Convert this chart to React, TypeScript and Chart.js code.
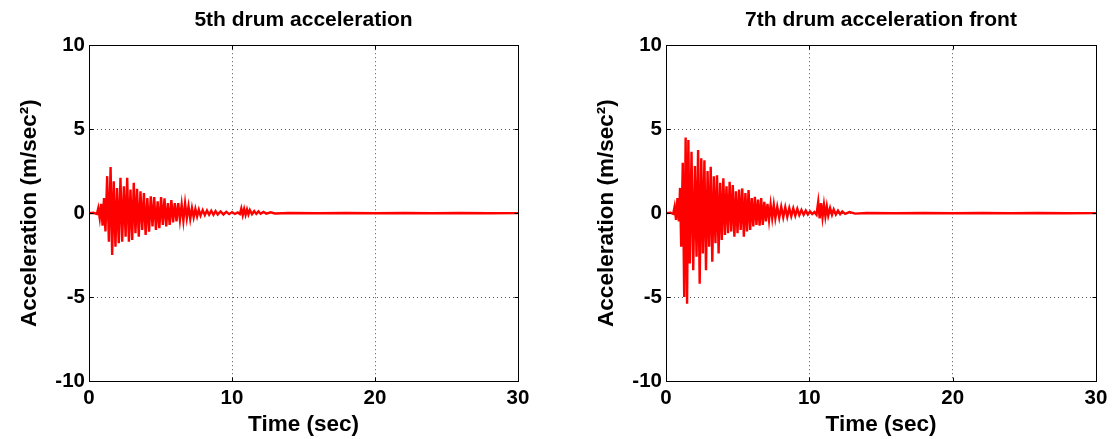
import React, { useEffect, useRef } from 'react';
import { Chart, registerables } from 'chart.js';

Chart.register(...registerables);

// ---- Data ----
const drum5Time = [
  0, 0.3, 0.55, 0.65, 0.75, 0.85, 0.95, 1.05, 1.15, 1.27, 1.39, 1.51, 1.62, 1.73, 1.85, 1.96, 2.08, 2.2, 2.32, 2.44,
  2.56, 2.67, 2.79, 2.9, 3.02, 3.13, 3.25, 3.36, 3.48, 3.6, 3.72, 3.84, 3.96, 4.08, 4.2, 4.32, 4.44, 4.56, 4.68, 4.8,
  4.92, 5.04, 5.16, 5.28, 5.4, 5.52, 5.64, 5.76, 5.88, 6.0, 6.12, 6.24, 6.36, 6.48, 6.6, 6.72, 6.84, 6.96, 7.08, 7.2,
  7.32, 7.44, 7.56, 7.68, 7.8, 7.95, 8.1, 8.25, 8.4, 8.55, 8.7, 8.85, 9.0, 9.2, 9.4, 9.6, 9.8, 10.0, 10.2, 10.4,
  10.55, 10.65, 10.75, 10.85, 10.95, 11.05, 11.15, 11.25, 11.4, 11.55, 11.7, 11.85, 12.0, 12.2, 12.4, 12.7, 13.0,
  14, 16, 18, 20, 22, 24, 26, 28, 30,
];
const drum5Accel = [
  0, 0.02, -0.05, 0.3, -0.3, 0.55, -0.75, 0.9, -1.1, 2.2, -1.7, 2.75, -2.5, 1.9, -2.0, 1.5, -1.8, 2.1, -1.7, 1.6,
  -1.4, 2.1, -1.7, 1.4, -1.6, 1.8, -1.2, 1.45, -1.4, 1.3, -1.0, 1.2, -1.3, 0.9, -1.1, 1.0, -0.8, 0.95, -1.0, 0.7,
  -0.9, 0.95, -0.7, 0.88, -0.8, 0.6, -0.7, 0.77, -0.55, 0.6, -0.5, 0.6, -0.4, 0.5, -0.45, 0.58, -0.3, 0.4, -0.35, 0.3,
  -0.25, 0.25, -0.2, 0.2, -0.15, 0.18, -0.12, 0.15, -0.1, 0.14, -0.1, 0.12, -0.08, 0.1, -0.08, 0.08, -0.06, 0.06, -0.05, 0.04,
  -0.05, 0.28, -0.12, 0.25, -0.1, 0.22, -0.08, 0.18, -0.06, 0.12, -0.05, 0.1, -0.04, 0.07, -0.03, 0.05, -0.02,
  0.01, -0.01, 0.01, -0.01, 0.01, -0.01, 0.01, -0.01, 0,
];

const drum7Time = [
  0, 0.3, 0.5, 0.6, 0.7, 0.8, 0.9, 0.98, 1.06, 1.17, 1.27, 1.37, 1.47, 1.56, 1.66, 1.78, 1.9, 2.02, 2.13, 2.24,
  2.35, 2.46, 2.57, 2.68, 2.79, 2.9, 3.01, 3.12, 3.23, 3.34, 3.45, 3.56, 3.67, 3.78, 3.89, 4.0, 4.11, 4.22, 4.33, 4.44,
  4.55, 4.66, 4.77, 4.88, 4.99, 5.1, 5.21, 5.32, 5.43, 5.54, 5.65, 5.76, 5.87, 5.98, 6.09, 6.2, 6.31, 6.42, 6.53, 6.64,
  6.75, 6.86, 6.97, 7.08, 7.19, 7.3, 7.41, 7.52, 7.63, 7.76, 7.9, 8.04, 8.18, 8.32, 8.46, 8.6, 8.74, 8.88, 9.02, 9.16,
  9.3, 9.45, 9.6, 9.75, 9.9, 10.05, 10.2, 10.35, 10.5, 10.62, 10.72, 10.82, 10.92, 11.02, 11.12, 11.22, 11.32, 11.45,
  11.58, 11.7, 11.85, 12.0, 12.15, 12.3, 12.5, 12.8, 13.2, 14, 16, 18, 20, 22, 24, 26, 28, 30,
];
const drum7Accel = [
  0, 0.02, -0.05, 0.38, -0.4, 0.9, -0.5, 1.5, -2.0, 3.0, -5.0, 4.5, -5.4, 4.35, -3.0, 3.65, -3.4, 2.8, -2.6, 3.75,
  -4.2, 3.27, -2.4, 3.15, -3.4, 2.5, -2.0, 2.76, -2.9, 2.2, -1.8, 2.26, -2.4, 1.8, -1.6, 2.08, -1.3, 1.6, -1.2, 1.86,
  -1.1, 1.67, -1.4, 1.3, -1.2, 1.4, -1.0, 1.47, -1.4, 1.2, -1.1, 1.37, -1.0, 0.9, -0.8, 0.97, -0.7, 0.8, -0.75, 0.9,
  -0.7, 0.67, -0.5, 0.55, -0.4, 0.5, -0.3, 0.48, -0.3, 0.38, -0.28, 0.38, -0.25, 0.35, -0.22, 0.3, -0.18, 0.28, -0.15, 0.25,
  -0.12, 0.18, -0.1, 0.15, -0.08, 0.1, -0.06, 0.06, -0.1, 0.67, -0.32, 0.6, -0.25, 0.5, -0.2, 0.4, -0.15, 0.3,
  -0.1, 0.22, -0.08, 0.15, -0.06, 0.1, -0.05, 0.06, -0.03, 0.01, -0.01, 0.01, -0.01, 0.01, -0.01, 0.01, -0.01, 0,
];

const xTickValues = [0, 10, 20, 30];
const yTickValues = [-10, -5, 0, 5, 10];
const chartTitles = ['5th drum acceleration', '7th drum acceleration front'];
const xAxisLabel = 'Time (sec)';
const yAxisLabel = 'Acceleration (m/sec²)';

const FONT = "'Liberation Sans', Arial, Helvetica, sans-serif";

const framePlugin = {
  id: 'matlabFrame',
  afterDraw(chart: any) {
    const { ctx, chartArea: a, scales } = chart;
    const L = Math.round(a.left) + 0.5;
    const R = Math.round(a.right) + 0.5;
    const T = Math.round(a.top) + 0.5;
    const B = Math.round(a.bottom) + 0.5;
    ctx.save();
    ctx.strokeStyle = '#000';
    ctx.lineWidth = 1;
    ctx.strokeRect(L, T, R - L, B - T);
    const len = 4;
    ctx.beginPath();
    for (const v of xTickValues) {
      const x = Math.round(scales.x.getPixelForValue(v)) + 0.5;
      ctx.moveTo(x, B);
      ctx.lineTo(x, B - len);
      ctx.moveTo(x, T);
      ctx.lineTo(x, T + len);
    }
    for (const v of yTickValues) {
      const y = Math.round(scales.y.getPixelForValue(v)) + 0.5;
      ctx.moveTo(L, y);
      ctx.lineTo(L + len, y);
      ctx.moveTo(R, y);
      ctx.lineTo(R - len, y);
    }
    ctx.stroke();
    ctx.restore();
  },
};

function makeConfig(index: number): any {
  const times = index === 0 ? drum5Time : drum7Time;
  const values = index === 0 ? drum5Accel : drum7Accel;
  const padLeft = index === 0 ? 0 : 19;
  const padRight = index === 0 ? 40 : 20;
  return {
    type: 'line',
    data: {
      datasets: [
        {
          data: times.map((t, i) => ({ x: t, y: values[i] })),
          borderColor: '#ff0000',
          borderWidth: 2.4,
          pointRadius: 0,
          tension: 0,
          fill: false,
        },
      ],
    },
    options: {
      animation: false,
      responsive: false,
      devicePixelRatio: 1,
      layout: { padding: { left: padLeft, right: padRight, top: 0, bottom: 0 } },
      plugins: {
        legend: { display: false },
        tooltip: { enabled: false },
        title: {
          display: true,
          text: chartTitles[index],
          fullSize: false,
          color: '#000',
          font: { family: FONT, size: 21, weight: 'bold' },
          padding: { top: 8, bottom: 12 },
        },
      },
      scales: {
        x: {
          type: 'linear',
          min: 0,
          max: 30,
          afterBuildTicks: (s: any) => {
            s.ticks = xTickValues.map((v) => ({ value: v }));
          },
          afterFit: (s: any) => {
            s.height = 58;
          },
          ticks: {
            color: '#000',
            font: { family: FONT, size: 20.5, weight: 'bold' },
            padding: 5,
            maxRotation: 0,
            autoSkip: false,
          },
          grid: { color: '#555', drawTicks: false, lineWidth: 1 },
          border: { display: false, dash: [1, 3] },
          title: {
            display: true,
            text: xAxisLabel,
            color: '#000',
            font: { family: FONT, size: 22.5, weight: 'bold' },
            padding: { top: 0, bottom: 1 },
          },
        },
        y: {
          type: 'linear',
          min: -10,
          max: 10,
          afterBuildTicks: (s: any) => {
            s.ticks = yTickValues.map((v) => ({ value: v }));
          },
          afterFit: (s: any) => {
            s.width = 89;
          },
          ticks: {
            color: '#000',
            font: { family: FONT, size: 20.5, weight: 'bold' },
            padding: 4,
            autoSkip: false,
          },
          grid: { color: '#555', drawTicks: false, lineWidth: 1 },
          border: { display: false, dash: [1, 3] },
          title: {
            display: true,
            text: yAxisLabel,
            color: '#000',
            font: { family: FONT, size: 22.5, weight: 'bold' },
            padding: { top: 16, bottom: 0 },
          },
        },
      },
    },
    plugins: [framePlugin],
  };
}

function DrumChart({ index }: { index: number }) {
  const ref = useRef<HTMLCanvasElement | null>(null);
  useEffect(() => {
    if (!ref.current) return;
    const chart = new Chart(ref.current, makeConfig(index));
    return () => chart.destroy();
  }, [index]);
  return (
    <canvas
      ref={ref}
      width={558}
      height={439}
      style={{ display: 'block', width: 558, height: 439 }}
    />
  );
}

export default function App() {
  return (
    <div
      style={{
        position: 'absolute',
        left: 0,
        top: 0,
        width: 1116,
        height: 439,
        display: 'flex',
        background: '#fff',
      }}
    >
      <DrumChart index={0} />
      <DrumChart index={1} />
    </div>
  );
}
